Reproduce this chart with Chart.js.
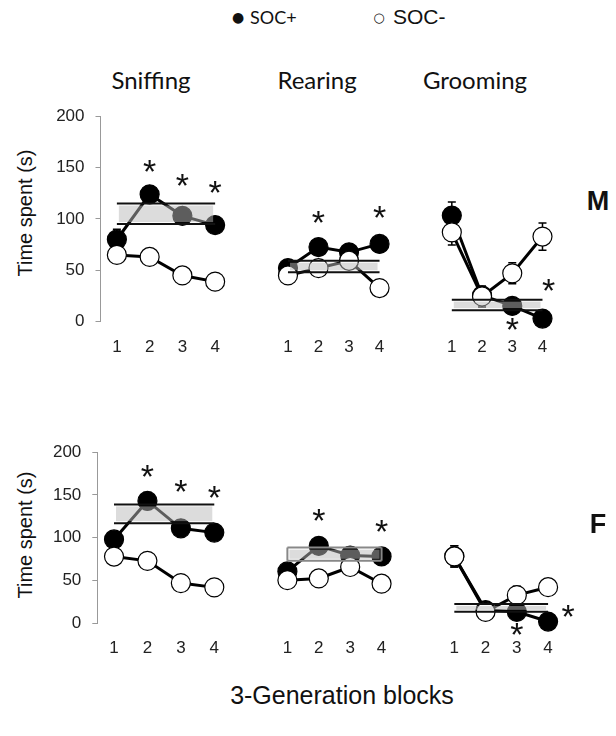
<!DOCTYPE html>
<html><head><meta charset="utf-8">
<script src="https://cdn.jsdelivr.net/npm/chart.js@4"></script>
<style>
html,body{margin:0;padding:0;background:#fff;}
#page{position:relative;width:616px;height:736px;overflow:hidden;background:#fff;}
.t{position:absolute;white-space:nowrap;color:#111;line-height:1;}
</style></head><body><div id="page"></div>
<script>
// ---------- data ----------
const blocks = ['1','2','3','4'];
const behaviours = ['Sniffing','Rearing','Grooming'];
const seriesNames = ['SOC+','SOC-'];
const sexes = ['M','F'];
const yMin = 0, yMax = 200, yStep = 50;

// Males
const mSniffPlus = [80,124,103,94];   const mSniffPlusErr = [10,6,5,5];
const mSniffMinus = [65,63,45,39];    const mSniffMinusErr = [4,4,4,4];
const mRearPlus = [51,71,66,74];      const mRearPlusErr = [4,5,5,5];
const mRearMinus = [44,51,58,32];     const mRearMinusErr = [4,4,4,4];
const mGroomPlus = [101,25,15,3];     const mGroomPlusErr = [13,6,5,2];
const mGroomMinus = [85,24,46,81];    const mGroomMinusErr = [12,10,10,13];
const mSniffBand = [95,115];
const mRearBand = [47,58];
const mGroomBand = [11,21];
const mSniffStarX = [2,3,4];   const mSniffStarY = [152,138,131];
const mRearStarX = [2,4];      const mRearStarY = [100,104];
const mGroomStarX = [3,4.2];   const mGroomStarY = [-2,35];

// Females
const fSniffPlus = [98,143,111,106];  const fSniffPlusErr = [6,10,7,5];
const fSniffMinus = [78,73,47,42];    const fSniffMinusErr = [4,4,4,4];
const fRearPlus = [59,88,77,76];      const fRearPlusErr = [5,6,5,5];
const fRearMinus = [49,51,64,45];     const fRearMinusErr = [4,4,4,4];
const fGroomPlus = [76,15,13,2];      const fGroomPlusErr = [12,5,5,2];
const fGroomMinus = [76,13,32,41];    const fGroomMinusErr = [12,5,10,5];
const fSniffBand = [117,139];
const fRearBand = [71,86];
const fGroomBand = [13,22];
const fSniffStarX = [2,3,4];   const fSniffStarY = [178,160,153];
const fRearStarX = [2,4];      const fRearStarY = [123,111];
const fGroomStarX = [3,4.64];  const fGroomStarY = [-6,14];

// ---------- drawing ----------
const page = document.getElementById('page');
const AX = "'Liberation Sans', Arial, Helvetica, sans-serif";

function addText(txt, x, y, css, anchor) {
  const d = document.createElement('div');
  d.className = 't';
  d.textContent = txt;
  d.style.cssText += css;
  d.style.left = x + 'px';
  d.style.top = y + 'px';
  d.style.transform = anchor || 'translate(-50%,-50%)';
  page.appendChild(d);
}

const extras = {
  id: 'panelExtras',
  beforeDatasetsDraw(chart) {
    const {ctx, scales: {x, y}} = chart;
    chart.data.datasets.forEach(ds => {
      if (!ds.err) return;
      ctx.save();
      ctx.strokeStyle = '#000'; ctx.lineWidth = 1.5;
      ds.data.forEach((v, i) => {
        const e = ds.err[i];
        const px = x.getPixelForValue(i);
        const y1 = y.getPixelForValue(v + e), y2 = y.getPixelForValue(v - e);
        ctx.beginPath();
        ctx.moveTo(px, y1); ctx.lineTo(px, y2);
        ctx.moveTo(px - 4, y1); ctx.lineTo(px + 4, y1);
        ctx.moveTo(px - 4, y2); ctx.lineTo(px + 4, y2);
        ctx.stroke();
      });
      ctx.restore();
    });
  },
  afterDatasetsDraw(chart, args, o) {
    const {ctx, scales: {x, y}} = chart;
    ctx.save();
    // control band
    const xl = x.getPixelForValue(0), xr = x.getPixelForValue(blocks.length - 1);
    const yh = y.getPixelForValue(o.band[1]), yl = y.getPixelForValue(o.band[0]);
    ctx.fillStyle = 'rgba(185,185,185,0.5)';
    ctx.fillRect(xl + 2, yh + 2, xr - xl - 4, yl - yh - 4);
    ctx.strokeStyle = o.bandColor; ctx.lineWidth = 2;
    ctx.beginPath();
    ctx.moveTo(xl, yh); ctx.lineTo(xr, yh);
    ctx.moveTo(xl, yl); ctx.lineTo(xr, yl);
    if (o.box) { ctx.moveTo(xl, yh); ctx.lineTo(xl, yl); ctx.moveTo(xr, yh); ctx.lineTo(xr, yl); }
    ctx.stroke();
    // significance stars
    ctx.fillStyle = '#111';
    ctx.font = "34px 'Liberation Sans', Arial, sans-serif";
    ctx.textAlign = 'center';
    ctx.textBaseline = 'alphabetic';
    const m = ctx.measureText('*');
    const off = (m.actualBoundingBoxAscent - m.actualBoundingBoxDescent) / 2;
    o.starX.forEach((sx, i) => {
      const px = x.getPixelForValue(sx - 1);
      const py = y.getPixelForValue(o.starY[i]);
      ctx.fillText('*', px, py + off);
    });
    ctx.restore();
  }
};

function makePanel(p) {
  const YW = p.showY ? 56 : 0;
  const XH = 40, R = 26, TP = 16;
  const cl = Math.floor(p.left - YW - 2);
  const ct = Math.floor(p.top - TP);
  const W = Math.ceil(p.right + R - cl);
  const H = Math.ceil(p.bottom + XH + 2 - ct);
  const padL = p.left - YW - cl;
  const padT = p.top - ct;
  const padR = W - (p.right - cl);
  const padB = H - XH - (p.bottom - ct);
  const canvas = document.createElement('canvas');
  canvas.width = W; canvas.height = H;
  canvas.style.cssText = `position:absolute;left:${cl}px;top:${ct}px;width:${W}px;height:${H}px;`;
  page.appendChild(canvas);
  const pt = {borderColor: '#000', borderWidth: 3, pointRadius: 9.5, pointBorderWidth: 1.2,
              pointBorderColor: '#000', clip: false, tension: 0};
  new Chart(canvas, {
    type: 'line',
    data: {
      labels: blocks,
      datasets: [
        Object.assign({label: seriesNames[0], data: p.plus, err: p.plusErr,
          backgroundColor: '#000', pointBackgroundColor: '#000', order: 1}, pt),
        Object.assign({label: seriesNames[1], data: p.minus, err: p.minusErr,
          backgroundColor: '#fff', pointBackgroundColor: '#fff', order: 0}, pt)
      ]
    },
    options: {
      responsive: false, animation: false, devicePixelRatio: 1,
      layout: {padding: {left: padL, top: padT, right: padR, bottom: padB}},
      plugins: {
        legend: {display: false}, tooltip: {enabled: false},
        panelExtras: {band: p.band, bandColor: p.bandColor || '#111', box: !!p.box,
                      starX: p.starX, starY: p.starY}
      },
      scales: {
        x: {
          offset: true,
          grid: {display: false, drawTicks: false},
          border: {display: false},
          ticks: {font: {family: AX, size: 17}, color: '#222', padding: 15},
          afterFit: s => { s.height = XH; }
        },
        y: {
          display: p.showY, min: yMin, max: yMax,
          ticks: {stepSize: yStep, font: {family: AX, size: 17}, color: '#222', padding: 11},
          grid: {drawOnChartArea: false, drawTicks: true, tickLength: 5, color: '#999'},
          border: {display: true, color: '#999'},
          afterFit: s => { s.width = YW; }
        }
      }
    },
    plugins: [extras]
  });
}

// Top row (M)
makePanel({left:100.5, right:231.5, top:111.5, bottom:321.7, showY:true,
  plus:mSniffPlus, plusErr:mSniffPlusErr, minus:mSniffMinus, minusErr:mSniffMinusErr,
  band:mSniffBand, starX:mSniffStarX, starY:mSniffStarY});
makePanel({left:264.2, right:394.8, top:111.5, bottom:321.7, showY:false,
  plus:mRearPlus, plusErr:mRearPlusErr, minus:mRearMinus, minusErr:mRearMinusErr,
  band:mRearBand, starX:mRearStarX, starY:mRearStarY});
makePanel({left:428.9, right:557.6, top:111.5, bottom:321.7, showY:false,
  plus:mGroomPlus, plusErr:mGroomPlusErr, minus:mGroomMinus, minusErr:mGroomMinusErr,
  band:mGroomBand, starX:mGroomStarX, starY:mGroomStarY});
// Bottom row (F)
makePanel({left:97.3, right:231, top:447.3, bottom:623.3, showY:true,
  plus:fSniffPlus, plusErr:fSniffPlusErr, minus:fSniffMinus, minusErr:fSniffMinusErr,
  band:fSniffBand, starX:fSniffStarX, starY:fSniffStarY});
makePanel({left:263.25, right:397.25, top:447.3, bottom:623.3, showY:false,
  plus:fRearPlus, plusErr:fRearPlusErr, minus:fRearMinus, minusErr:fRearMinusErr,
  band:fRearBand, bandColor:'#888', box:true, starX:fRearStarX, starY:fRearStarY});
makePanel({left:430, right:563.7, top:447.3, bottom:623.3, showY:false,
  plus:fGroomPlus, plusErr:fGroomPlusErr, minus:fGroomMinus, minusErr:fGroomMinusErr,
  band:fGroomBand, starX:fGroomStarX, starY:fGroomStarY});

// Texts
addText('\u25CF', 238, 17, "font:14px 'DejaVu Sans',sans-serif;");
addText(seriesNames[0], 250, 17, "font:18px Lato,sans-serif;", 'translate(0,-50%)');
addText('\u25CB', 379, 17, "font:13px 'DejaVu Sans',sans-serif;");
addText(seriesNames[1], 393, 17, `font:21px ${AX};`, 'translate(0,-50%)');
addText(behaviours[0], 151, 79, "font:24px Lato,sans-serif;");
addText(behaviours[1], 317, 79, "font:24px Lato,sans-serif;");
addText(behaviours[2], 475, 79, "font:24px Lato,sans-serif;");
addText(sexes[0], 598, 201, `font:bold 27px ${AX};`);
addText(sexes[1], 598, 524, `font:bold 27px ${AX};`);
addText('Time spent (s)', 25, 213, `font:20px ${AX};`, 'translate(-50%,-50%) rotate(-90deg)');
addText('Time spent (s)', 25, 535, `font:20px ${AX};`, 'translate(-50%,-50%) rotate(-90deg)');
addText('3-Generation blocks', 342, 695, `font:25px ${AX};`);
</script>
</body></html>
